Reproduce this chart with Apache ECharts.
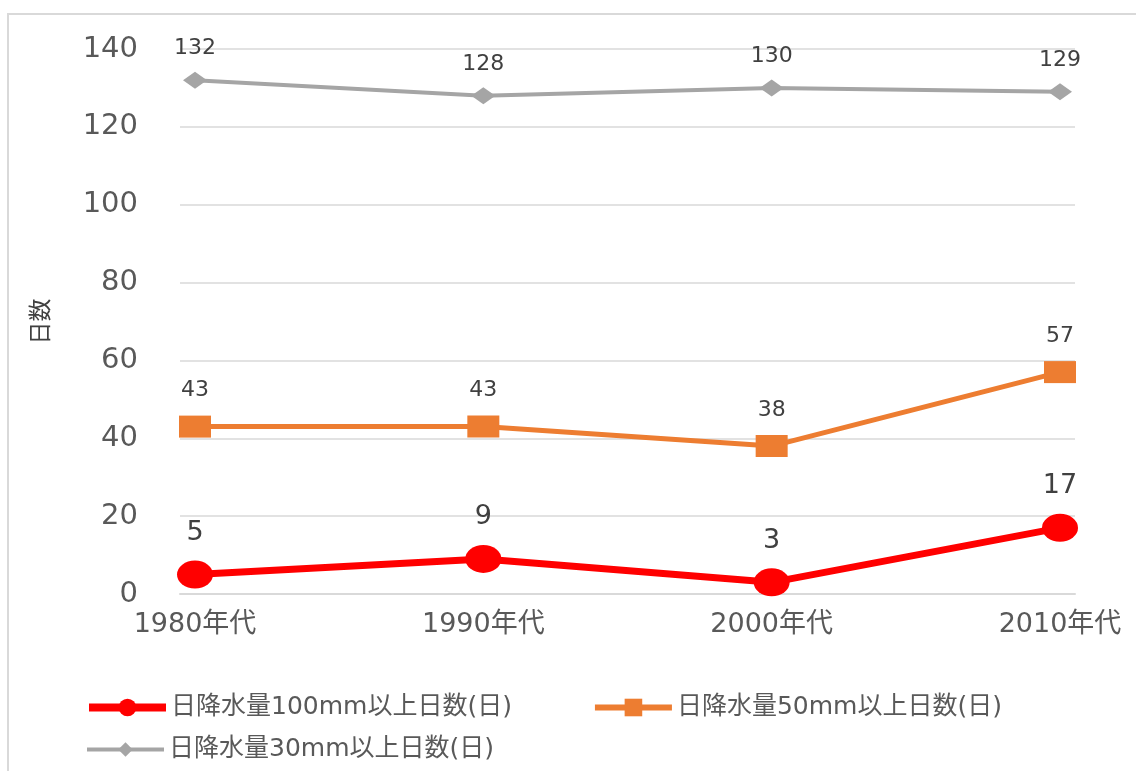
<!DOCTYPE html>
<html>
<head>
<meta charset="utf-8">
<script src="https://cdn.jsdelivr.net/npm/echarts@6/dist/echarts.min.js"></script>
<style>
  html, body { margin: 0; padding: 0; background: #fff; overflow: hidden; }
  #frame { position: absolute; left: 7px; top: 13px; width: 1200px; height: 800px; border: 2px solid #d9d9d9; }
  #chart { position: absolute; left: 0; top: 0; width: 1136px; height: 771px; }
</style>
</head>
<body>
<div id="frame"></div>
<div id="chart"></div>
<script>
const categories = ['1980年代', '1990年代', '2000年代', '2010年代']
const rain100 = [5, 9, 3, 17]
const rain50 = [43, 43, 38, 57]
const rain30 = [132, 128, 130, 129]
const names = ['日降水量100mm以上日数(日)', '日降水量50mm以上日数(日)', '日降水量30mm以上日数(日)']

const font = "'DejaVu Sans', 'Noto Sans CJK JP', sans-serif"
const chart = echarts.init(document.getElementById('chart'))

const legendText = { fontFamily: font, fontSize: 25, color: '#595959' }

const option = {
  animation: false,
  textStyle: { fontFamily: font },
  grid: [
    // wide grid for the gridlines and y labels
    { left: 180, right: 61, top: 49, bottom: 177 },
    // inner grid where the points sit
    { left: 195, right: 76, top: 49, bottom: 177 }
  ],
  legend: [
    {
      left: 80,
      top: 690,
      itemWidth: 77,
      itemHeight: 22,
      itemGap: 80,
      data: [
        { name: names[0], lineStyle: { width: 8 } },
        { name: names[1], lineStyle: { width: 6 } }
      ],
      textStyle: legendText
    },
    {
      left: 80,
      top: 732,
      itemWidth: 77,
      itemHeight: 18,
      data: [{ name: names[2], lineStyle: { width: 4 } }],
      textStyle: legendText
    }
  ],
  xAxis: [
    {
      gridIndex: 0,
      type: 'category',
      boundaryGap: false,
      data: categories,
      axisLine: { lineStyle: { color: '#d9d9d9', width: 2 } },
      axisTick: { show: false },
      axisLabel: { show: false }
    },
    {
      gridIndex: 1,
      type: 'category',
      boundaryGap: false,
      data: categories,
      axisLine: { show: false },
      axisTick: { show: false },
      axisLabel: { color: '#595959', fontSize: 27, margin: 17, fontFamily: font }
    }
  ],
  yAxis: [
    {
      gridIndex: 0,
      type: 'value',
      min: 0,
      max: 140,
      interval: 20,
      name: '日数',
      nameLocation: 'middle',
      nameGap: 126,
      nameTextStyle: { color: '#404040', fontSize: 23, fontFamily: font },
      axisLine: { show: false },
      axisTick: { show: false },
      axisLabel: { color: '#595959', fontSize: 29, margin: 42, fontFamily: font },
      splitLine: { lineStyle: { color: '#d9d9d9', width: 1.5 } }
    },
    {
      gridIndex: 1,
      type: 'value',
      min: 0,
      max: 140,
      interval: 20,
      show: false,
      splitLine: { show: false }
    }
  ],
  series: [
    {
      name: names[0],
      type: 'line',
      xAxisIndex: 1,
      yAxisIndex: 1,
      data: rain100,
      z: 5,
      symbol: 'circle',
      symbolSize: [36, 28],
      lineStyle: { color: '#ff0000', width: 7 },
      itemStyle: { color: '#ff0000' },
      label: { show: true, position: 'top', distance: 14, color: '#404040', fontSize: 27, fontFamily: font }
    },
    {
      name: names[1],
      type: 'line',
      xAxisIndex: 1,
      yAxisIndex: 1,
      data: rain50,
      z: 4,
      symbol: 'rect',
      symbolSize: [32, 22],
      lineStyle: { color: '#ed7d31', width: 5 },
      itemStyle: { color: '#ed7d31' },
      label: { show: true, position: 'top', distance: 14, color: '#404040', fontSize: 22, fontFamily: font }
    },
    {
      name: names[2],
      type: 'line',
      xAxisIndex: 1,
      yAxisIndex: 1,
      data: rain30,
      z: 3,
      symbol: 'diamond',
      symbolSize: [24, 17],
      lineStyle: { color: '#a5a5a5', width: 4 },
      itemStyle: { color: '#a5a5a5' },
      label: { show: true, position: 'top', distance: 12, color: '#404040', fontSize: 22, fontFamily: font }
    }
  ]
}

chart.setOption(option)
</script>
</body>
</html>
